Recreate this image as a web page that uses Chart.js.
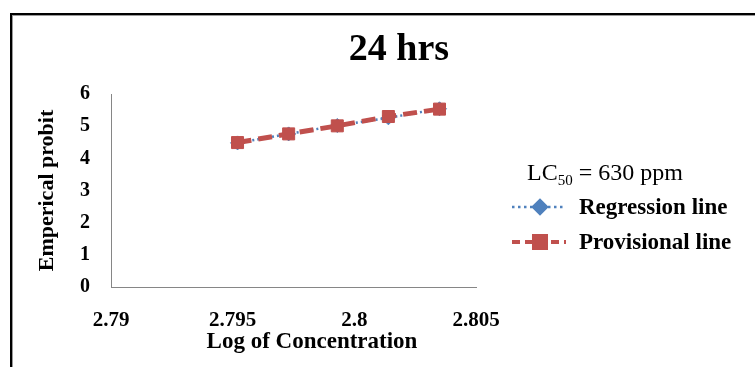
<!DOCTYPE html>
<html>
<head>
<meta charset="utf-8">
<script src="https://cdn.jsdelivr.net/npm/chart.js@4"></script>
<style>
    html, body { margin: 0; padding: 0; background: #fff; overflow: hidden; }
    #frame {
        position: absolute; left: 10px; top: 13px; width: 800px; height: 420px;
        border: 2px solid #000; box-shadow: inset 1px 1px 0 #9a9a9a;
    }
    #probitChart { position: absolute; left: 0; top: 0; }
</style>
</head>
<body>
<div id="frame"></div>
<canvas id="probitChart" width="755" height="367"></canvas>
<script>
// Log of concentration (x) and probit values
const logConc = [2.7952, 2.7973, 2.7993, 2.8014, 2.8035];
const regressionProbit = [4.48, 4.76, 5.02, 5.26, 5.54];
const provisionalProbit = [4.49, 4.76, 5.01, 5.30, 5.53];
const xTicks = [2.79, 2.795, 2.8, 2.805];
const yTicks = [0, 1, 2, 3, 4, 5, 6];

const chartTitle = '24 hrs';
const xTitle = 'Log of Concentration';
const yTitle = 'Emperical probit';
const lcText = ['LC', '50', ' = 630 ppm'];

const serif = '"Liberation Serif", "Times New Roman", serif';
const blue = '#4F81BD';
const red = '#C0504D';

function toPoints(ys) {
    return logConc.map((x, i) => ({ x: x, y: ys[i] }));
}

// Title, x axis title and the LC50 legend are drawn by hand
const textPlugin = {
    id: 'textPlugin',
    afterDraw(chart) {
        const ctx = chart.ctx;
        ctx.save();
        ctx.fillStyle = '#000';
        ctx.textAlign = 'center';
        ctx.textBaseline = 'middle';
        ctx.font = 'bold 38px ' + serif;
        ctx.fillText(chartTitle, 399, 50);
        ctx.font = 'bold 23px ' + serif;
        ctx.fillText(xTitle, 312, 342);

        // LC50 line
        ctx.textAlign = 'left';
        ctx.textBaseline = 'alphabetic';
        let x = 527;
        ctx.font = '24px ' + serif;
        ctx.fillText(lcText[0], x, 180);
        x += ctx.measureText(lcText[0]).width;
        ctx.font = '15px ' + serif;
        ctx.fillText(lcText[1], x, 185);
        x += ctx.measureText(lcText[1]).width;
        ctx.font = '24px ' + serif;
        ctx.fillText(lcText[2], x, 180);

        // legend entries, in dataset order
        const rows = [207, 242];
        chart.data.datasets.forEach((ds, i) => {
            const y = rows[i];
            ctx.save();
            ctx.strokeStyle = ds.borderColor;
            ctx.lineWidth = ds.legendWidth;
            ctx.setLineDash(ds.legendDash);
            ctx.beginPath();
            ctx.moveTo(512, y);
            ctx.lineTo(566, y);
            ctx.stroke();
            ctx.setLineDash([]);
            ctx.fillStyle = ds.pointBackgroundColor;
            ctx.strokeStyle = ds.pointBorderColor;
            Chart.helpers.drawPoint(ctx, {
                pointStyle: ds.pointStyle,
                radius: ds.pointRadius,
                rotation: 0,
                borderWidth: ds.pointBorderWidth
            }, 540, y);
            ctx.restore();
            ctx.font = 'bold 23px ' + serif;
            ctx.fillStyle = '#000';
            ctx.textBaseline = 'middle';
            ctx.fillText(ds.label, 579, y + 1);
        });
        ctx.restore();
    }
};

const ctx = document.getElementById('probitChart').getContext('2d');
const probitChart = new Chart(ctx, {
    type: 'scatter',
    data: {
        datasets: [{
            label: 'Regression line',
            data: toPoints(regressionProbit),
            showLine: true,
            borderColor: blue,
            borderWidth: 2.5,
            borderDash: [2, 3],
            legendDash: [2.5, 3.5],
            legendWidth: 2.5,
            pointStyle: 'rectRot',
            pointRadius: 7,
            pointBackgroundColor: blue,
            pointBorderColor: blue,
            pointBorderWidth: 1,
            order: 1
        }, {
            label: 'Provisional line',
            data: toPoints(provisionalProbit),
            showLine: true,
            borderColor: red,
            borderWidth: 5,
            borderDash: [14, 7],
            legendDash: [8, 5],
            legendWidth: 4,
            pointStyle: 'rect',
            pointRadius: 8.5,
            pointBackgroundColor: red,
            pointBorderColor: red,
            pointBorderWidth: 1,
            order: 0
        }]
    },
    options: {
        responsive: false,
        animation: false,
        layout: { padding: { top: 94, right: 279, bottom: 0, left: 0 } },
        plugins: {
            legend: { display: false },
            title: { display: false },
            tooltip: { enabled: false }
        },
        scales: {
            x: {
                type: 'linear',
                min: xTicks[0],
                max: xTicks[xTicks.length - 1],
                afterFit: scale => { scale.height = 80; },
                afterBuildTicks: scale => { scale.ticks = xTicks.map(v => ({ value: v })); },
                grid: { display: false, drawTicks: false },
                border: { display: true, color: '#868686', width: 1 },
                ticks: {
                    padding: 21,
                    color: '#000',
                    font: { family: serif, size: 21, weight: 'bold' },
                    callback: v => String(parseFloat(Number(v).toFixed(3)))
                }
            },
            y: {
                min: yTicks[0],
                max: yTicks[yTicks.length - 1],
                afterFit: scale => { scale.width = 111; },
                afterBuildTicks: scale => { scale.ticks = yTicks.map(v => ({ value: v })); },
                grid: { display: false, drawTicks: false },
                border: { display: true, color: '#868686', width: 1 },
                ticks: {
                    padding: 21,
                    color: '#000',
                    font: { family: serif, size: 20, weight: 'bold' }
                },
                title: {
                    display: true,
                    text: yTitle,
                    color: '#000',
                    padding: { top: 34, bottom: 0 },
                    font: { family: serif, size: 22, weight: 'bold' }
                }
            }
        }
    },
    plugins: [textPlugin]
});
</script>
</body>
</html>
